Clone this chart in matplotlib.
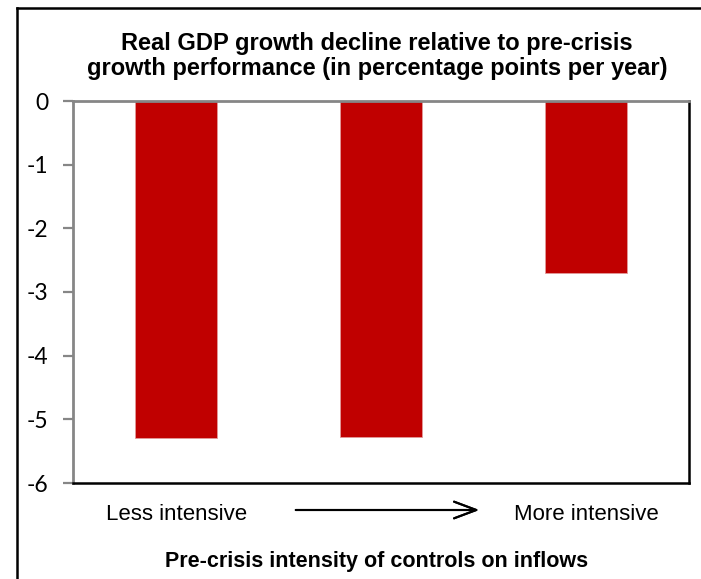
import matplotlib.pyplot as plt
from matplotlib.lines import Line2D

categories = ["Less intensive", "Middle", "More intensive"]
gdp_decline = [-5.30, -5.27, -2.70]
y_ticks = [0, -1, -2, -3, -4, -5, -6]

title = "Real GDP growth decline relative to pre-crisis\ngrowth performance (in percentage points per year)"
x_label = "Pre-crisis intensity of controls on inflows"

BAR_RED = "#C00000"
GRID_GRAY = "#868686"

fig = plt.figure(figsize=(7.01, 5.79), dpi=100)
ax = fig.add_axes([73 / 701, 1 - 483 / 579, 616 / 701, 382 / 579])

ax.bar(range(len(gdp_decline)), gdp_decline, width=0.40, color=BAR_RED,
       edgecolor="#E29A9A", linewidth=0.6, zorder=2)

ax.set_xlim(-0.5, len(gdp_decline) - 0.5)
ax.set_ylim(-6, 0)
ax.set_yticks(y_ticks)
ax.set_yticklabels([str(t) for t in y_ticks], fontfamily="Lato", fontsize=16.5)
ax.set_xticks([])
ax.tick_params(axis="y", direction="out", length=7, width=1.6, color=GRID_GRAY, pad=11)

for side in ("left", "top"):
    ax.spines[side].set_color(GRID_GRAY)
    ax.spines[side].set_linewidth(2)
for side in ("right", "bottom"):
    ax.spines[side].set_color("black")
    ax.spines[side].set_linewidth(1.8)

# outer chart frame (only top and left edges remain in the crop)
fig.add_artist(Line2D([17 / 701, 1.0], [1 - 8 / 579, 1 - 8 / 579], color="black", lw=1.8))
fig.add_artist(Line2D([17 / 701, 17 / 701], [0.0, 1 - 8 / 579], color="black", lw=1.8))

fig.text(377 / 701, 1 - 56 / 579, title, ha="center", va="center",
         fontfamily="Liberation Sans", fontweight="bold", fontsize=17, linespacing=1.15)

fig.text(177 / 701, 1 - 515 / 579, categories[0], ha="center", va="center",
         fontfamily="Liberation Sans", fontsize=16)
fig.text(586 / 701, 1 - 515 / 579, categories[-1], ha="center", va="center",
         fontfamily="Liberation Sans", fontsize=16)
fig.add_artist(plt.annotate("", xy=(482 / 701, 1 - 510 / 579), xytext=(293 / 701, 1 - 510 / 579),
                            xycoords="figure fraction",
                            arrowprops=dict(arrowstyle="->,head_length=1.6,head_width=0.6",
                                            color="black", lw=1.5)))

fig.text(377 / 701, 1 - 562 / 579, x_label, ha="center", va="center",
         fontfamily="Liberation Sans", fontweight="bold", fontsize=15.5)

fig.savefig("out.png", dpi=100)
